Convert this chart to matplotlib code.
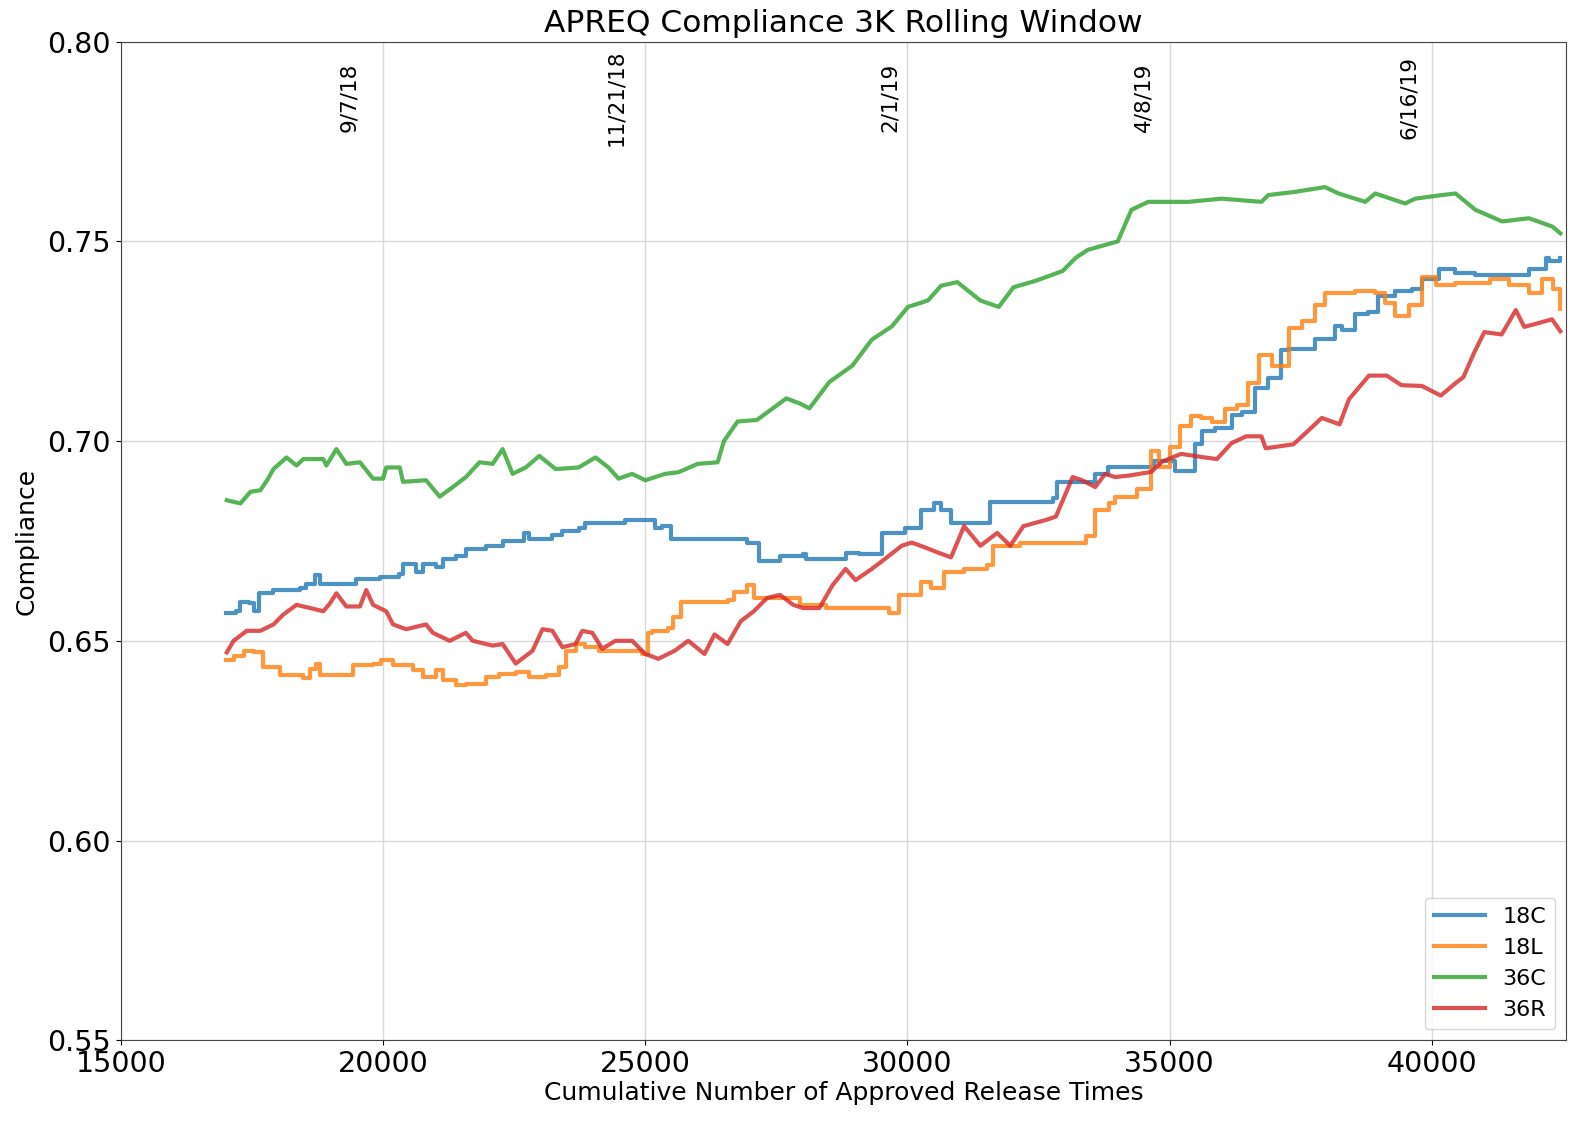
import numpy as np
import matplotlib
matplotlib.use("Agg")
import matplotlib.pyplot as plt

# rolling-window compliance
x_18c = [17000, 17200, 17280, 17440, 17530, 17630, 17910, 18420, 18540, 18700,
         18800, 19370, 19490, 19940, 20310, 20380, 20630, 20760, 21010, 21140,
         21390, 21580, 21960, 22280, 22600, 22690, 22790, 23100, 23230, 23420,
         23730, 23860, 24560, 24620, 25000, 25190, 25310, 25500, 26940, 27160,
         27570, 28010, 28070, 28820, 29070, 29510, 29950, 30140, 30260, 30510,
         30640, 30830, 31270, 31580, 32390, 32770, 32860, 33210, 33580, 33830,
         34200, 34710, 35100, 35480, 35610, 35860, 36180, 36370, 36620, 36880,
         37130, 37260, 37520, 37770, 38150, 38280, 38540, 38790, 38980, 39300,
         39620, 39810, 40130, 40450, 40830, 41470, 41850, 42170, 42230, 42450]
y_18c = [0.6570, 0.6574, 0.6598, 0.6594, 0.6574, 0.6619, 0.6627, 0.6631, 0.6643, 0.6664,
         0.6643, 0.6643, 0.6656, 0.6660, 0.6668, 0.6693, 0.6672, 0.6693, 0.6684, 0.6705,
         0.6713, 0.6730, 0.6738, 0.6750, 0.6750, 0.6771, 0.6754, 0.6754, 0.6766, 0.6775,
         0.6783, 0.6795, 0.6795, 0.6803, 0.6803, 0.6783, 0.6787, 0.6754, 0.6746, 0.6701,
         0.6713, 0.6717, 0.6705, 0.6721, 0.6717, 0.6770, 0.6783, 0.6783, 0.6828, 0.6844,
         0.6828, 0.6795, 0.6795, 0.6848, 0.6848, 0.6857, 0.6898, 0.6898, 0.6918, 0.6934,
         0.6934, 0.6950, 0.6926, 0.6992, 0.7025, 0.7033, 0.7066, 0.7074, 0.7132, 0.7157,
         0.7227, 0.7231, 0.7231, 0.7256, 0.7289, 0.7277, 0.7318, 0.7322, 0.7364, 0.7376,
         0.7380, 0.7405, 0.7430, 0.7421, 0.7417, 0.7417, 0.7430, 0.7459, 0.7450, 0.7458]

x_18l = [17000, 17150, 17340, 17530, 17720, 18040, 18420, 18480, 18610, 18730,
         18800, 19300, 19430, 19810, 19970, 20190, 20570, 20760, 21010, 21140,
         21390, 21580, 21960, 22220, 22530, 22790, 23100, 23360, 23480, 23670,
         23860, 24110, 24620, 24940, 25060, 25130, 25440, 25520, 25690, 26570,
         26690, 26940, 27070, 27570, 27950, 28450, 29320, 29640, 29830, 30140,
         30260, 30450, 30700, 31080, 31520, 31640, 32140, 33270, 33400, 33580,
         33840, 33960, 34380, 34650, 34790, 35000, 35200, 35400, 35600, 35800,
         36050, 36280, 36500, 36700, 36950, 37270, 37520, 37770, 37960, 38540,
         38920, 39110, 39300, 39560, 39810, 40070, 40450, 41100, 41470, 41850,
         42100, 42300, 42380, 42450]
y_18l = [0.6451, 0.6463, 0.6475, 0.6471, 0.6434, 0.6414, 0.6414, 0.6406, 0.6430, 0.6443,
         0.6414, 0.6414, 0.6439, 0.6443, 0.6451, 0.6439, 0.6426, 0.6410, 0.6426, 0.6402,
         0.6389, 0.6393, 0.6410, 0.6418, 0.6422, 0.6410, 0.6414, 0.6434, 0.6475, 0.6492,
         0.6484, 0.6475, 0.6475, 0.6467, 0.6520, 0.6525, 0.6533, 0.6560, 0.6598, 0.6602,
         0.6623, 0.6639, 0.6607, 0.6607, 0.6590, 0.6582, 0.6582, 0.6570, 0.6615, 0.6615,
         0.6648, 0.6631, 0.6672, 0.6680, 0.6689, 0.6738, 0.6746, 0.6746, 0.6762, 0.6828,
         0.6844, 0.6860, 0.6880, 0.6974, 0.6935, 0.6985, 0.7038, 0.7064, 0.7058, 0.7048,
         0.7080, 0.7090, 0.7145, 0.7215, 0.7188, 0.7282, 0.7300, 0.7340, 0.7372, 0.7375,
         0.7370, 0.7347, 0.7312, 0.7340, 0.7412, 0.7390, 0.7396, 0.7406, 0.7390, 0.7370,
         0.7405, 0.7380, 0.7382, 0.7330]

x_36c = [17020, 17280, 17470, 17660, 17790, 17910, 18160, 18350, 18480, 18860,
         18920, 19110, 19300, 19560, 19810, 20000, 20060, 20320, 20380, 20820,
         21080, 21330, 21580, 21840, 22090, 22280, 22470, 22720, 22980, 23290,
         23730, 24050, 24300, 24490, 24750, 25000, 25380, 25630, 26000, 26380,
         26500, 26760, 27130, 27690, 27950, 28130, 28510, 28950, 29320, 29700,
         30010, 30390, 30640, 30950, 31390, 31740, 32020, 32460, 32960, 33210,
         33440, 34010, 34270, 34590, 35350, 35990, 36750, 36880, 37390, 37960,
         38220, 38730, 38920, 39490, 39680, 40190, 40450, 40830, 41340, 41850,
         42300, 42450]
y_36c = [0.6852, 0.6844, 0.6873, 0.6877, 0.6902, 0.6930, 0.6959, 0.6939, 0.6955, 0.6955,
         0.6939, 0.6980, 0.6943, 0.6947, 0.6906, 0.6906, 0.6934, 0.6934, 0.6898, 0.6902,
         0.6861, 0.6885, 0.6910, 0.6947, 0.6943, 0.6980, 0.6918, 0.6934, 0.6963, 0.6930,
         0.6934, 0.6959, 0.6934, 0.6906, 0.6918, 0.6902, 0.6918, 0.6922, 0.6943, 0.6947,
         0.7000, 0.7049, 0.7053, 0.7107, 0.7094, 0.7082, 0.7148, 0.7189, 0.7254, 0.7287,
         0.7336, 0.7352, 0.7389, 0.7398, 0.7352, 0.7336, 0.7385, 0.7402, 0.7426, 0.7459,
         0.7479, 0.7500, 0.7579, 0.7599, 0.7599, 0.7607, 0.7599, 0.7616, 0.7624, 0.7636,
         0.7620, 0.7599, 0.7620, 0.7595, 0.7607, 0.7616, 0.7620, 0.7579, 0.7550, 0.7558,
         0.7537, 0.7520]

x_36r = [17020, 17150, 17400, 17660, 17910, 18100, 18350, 18610, 18860, 18990,
         19110, 19300, 19560, 19680, 19810, 20060, 20190, 20440, 20820, 20950,
         21270, 21580, 21710, 22090, 22280, 22530, 22850, 23040, 23230, 23420,
         23670, 23800, 23990, 24180, 24430, 24750, 25000, 25250, 25560, 25820,
         26130, 26320, 26570, 26820, 27070, 27320, 27570, 27820, 28010, 28320,
         28570, 28820, 29010, 29320, 29570, 29890, 30080, 30330, 30580, 30830,
         31080, 31390, 31710, 31960, 32210, 32650, 32830, 33150, 33330, 33580,
         33770, 33960, 34240, 34650, 34860, 35220, 35620, 35900, 36180, 36460,
         36750, 36830, 37360, 37640, 37900, 38240, 38420, 38800, 39140, 39420,
         39810, 40170, 40450, 40600, 40800, 41000, 41330, 41600, 41760, 42020,
         42290, 42450]
y_36r = [0.6471, 0.6500, 0.6525, 0.6525, 0.6541, 0.6566, 0.6590, 0.6582, 0.6574, 0.6594,
         0.6619, 0.6586, 0.6586, 0.6627, 0.6590, 0.6574, 0.6541, 0.6529, 0.6541, 0.6520,
         0.6500, 0.6520, 0.6500, 0.6488, 0.6492, 0.6443, 0.6475, 0.6529, 0.6525, 0.6484,
         0.6492, 0.6525, 0.6520, 0.6480, 0.6500, 0.6500, 0.6467, 0.6455, 0.6475, 0.6500,
         0.6467, 0.6516, 0.6492, 0.6549, 0.6574, 0.6607, 0.6615, 0.6590, 0.6582, 0.6582,
         0.6639, 0.6680, 0.6652, 0.6680, 0.6705, 0.6738, 0.6746, 0.6734, 0.6721, 0.6709,
         0.6787, 0.6738, 0.6770, 0.6738, 0.6787, 0.6803, 0.6811, 0.6910, 0.6902, 0.6885,
         0.6918, 0.6910, 0.6914, 0.6923, 0.6949, 0.6968, 0.6960, 0.6955, 0.6995, 0.7012,
         0.7012, 0.6982, 0.6992, 0.7026, 0.7058, 0.7042, 0.7105, 0.7164, 0.7164, 0.7140,
         0.7138, 0.7114, 0.7145, 0.7160, 0.7220, 0.7273, 0.7267, 0.7328, 0.7286, 0.7295,
         0.7305, 0.7275]

# 18C / 18L move in flat runs and jumps, 36C / 36R look like a noisy line
series = [("18C", x_18c, y_18c, "steps-post"), ("18L", x_18l, y_18l, "steps-post"),
          ("36C", x_36c, y_36c, "default"), ("36R", x_36r, y_36r, "default")]

date_labels = ["9/7/18", "11/21/18", "2/1/19", "4/8/19", "6/16/19"]
date_x = [19360, 24450, 29670, 34490, 39570]

fig = plt.figure(figsize=(15.9, 11.27), dpi=100)
ax = fig.add_axes([0.076, 0.077, 0.909, 0.886])

for name, xs, ys, ds in series:
    ax.plot(xs, ys, lw=3, alpha=0.8, drawstyle=ds, label=name)

for lab, dx in zip(date_labels, date_x):
    ax.text(dx, 0.786, lab, rotation=90, ha="center", va="center", fontsize=15.5)

ax.set_xlim(15000, 42560)
ax.set_ylim(0.55, 0.80)
ax.set_yticks(np.arange(0.55, 0.801, 0.05))
ax.set_xticks([15000, 20000, 25000, 30000, 35000, 40000])
ax.tick_params(labelsize=20.5)
ax.grid(True, color="#d8d8d8", lw=1)
ax.set_axisbelow(True)
for sp in ax.spines.values():
    sp.set_color("#444444")

ax.set_title("APREQ Compliance 3K Rolling Window", fontsize=22.5, pad=7)
ax.set_xlabel("Cumulative Number of Approved Release Times", fontsize=18, labelpad=2)
ax.set_ylabel("Compliance", fontsize=18, labelpad=6)
ax.legend(loc="lower right", fontsize=16, handlelength=2.3)

fig.savefig("out.png", dpi=100)
